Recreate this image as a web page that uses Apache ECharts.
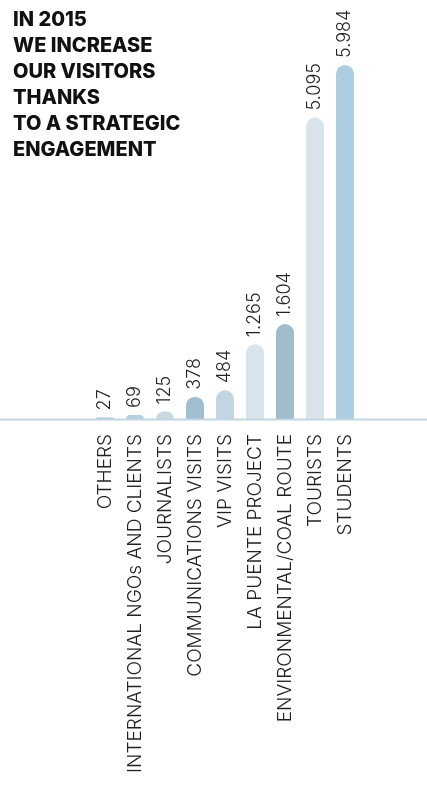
<!DOCTYPE html>
<html>
<head>
<meta charset="utf-8">
<script src="https://cdn.jsdelivr.net/npm/echarts@6/dist/echarts.min.js"></script>
<style>
  html, body { margin: 0; padding: 0; background: #fff; }
  #main { width: 427px; height: 785px; }
</style>
</head>
<body>
<div id="main"></div>
<script>
// visitor categories, left to right
const categories = ['OTHERS', 'INTERNATIONAL NGOs AND CLIENTS', 'JOURNALISTS', 'COMMUNICATIONS VISITS',
  'VIP VISITS', 'LA PUENTE PROJECT', 'ENVIRONMENTAL/COAL ROUTE', 'TOURISTS', 'STUDENTS']
const visitors = [27, 69, 125, 378, 484, 1265, 1604, 5095, 5984]
const barColors = ['#a9c5d8', '#b3cfe0', '#c8d9e3', '#a1bdd0', '#c3d5e0', '#d8e3eb', '#a1bccd', '#d8e3eb', '#adcde0']
const titleLines = ['IN 2015', 'WE INCREASE', 'OUR VISITORS', 'THANKS', 'TO A STRATEGIC', 'ENGAGEMENT']

// 1265 -> "1.265"
const fmt = (v) => String(v).replace(/\B(?=(\d{3})+(?!\d))/g, '.')

const chart = echarts.init(document.getElementById('main'))

const option = {
  animation: false,
  title: {
    text: titleLines.join('\n'),
    left: 8,
    top: 2,
    textStyle: {
      fontFamily: 'Inter',
      fontWeight: 800,
      fontSize: 20,
      lineHeight: 26,
      color: '#111'
    }
  },
  grid: { left: 90, right: 67, top: 64, bottom: 366 },
  xAxis: {
    type: 'category',
    data: categories,
    axisLine: { show: false },
    axisTick: { show: false },
    axisLabel: {
      rotate: 90,
      margin: 15,
      interval: 0,
      fontFamily: 'Inter',
      fontWeight: 300,
      fontSize: 19,
      color: '#222'
    }
  },
  yAxis: {
    type: 'value',
    min: 0,
    max: 6000,
    show: false,
    splitLine: { show: false }
  },
  series: [{
    type: 'bar',
    barWidth: 18,
    data: visitors.map((v, i) => ({ value: v, itemStyle: { color: barColors[i] } })),
    itemStyle: { borderRadius: [9, 9, 0, 0] },
    label: {
      show: true,
      position: 'top',
      rotate: 90,
      align: 'left',
      verticalAlign: 'middle',
      distance: 7,
      fontFamily: 'Inter',
      fontWeight: 300,
      fontSize: 18,
      color: '#222',
      formatter: (p) => fmt(p.value)
    }
  }],
  graphic: [{
    // baseline runs across the whole picture
    type: 'line',
    shape: { x1: 0, y1: 419.5, x2: 427, y2: 419.5 },
    style: { stroke: '#c2d6e2', lineWidth: 2 },
    z: 10
  }]
}

chart.setOption(option)
</script>
</body>
</html>
